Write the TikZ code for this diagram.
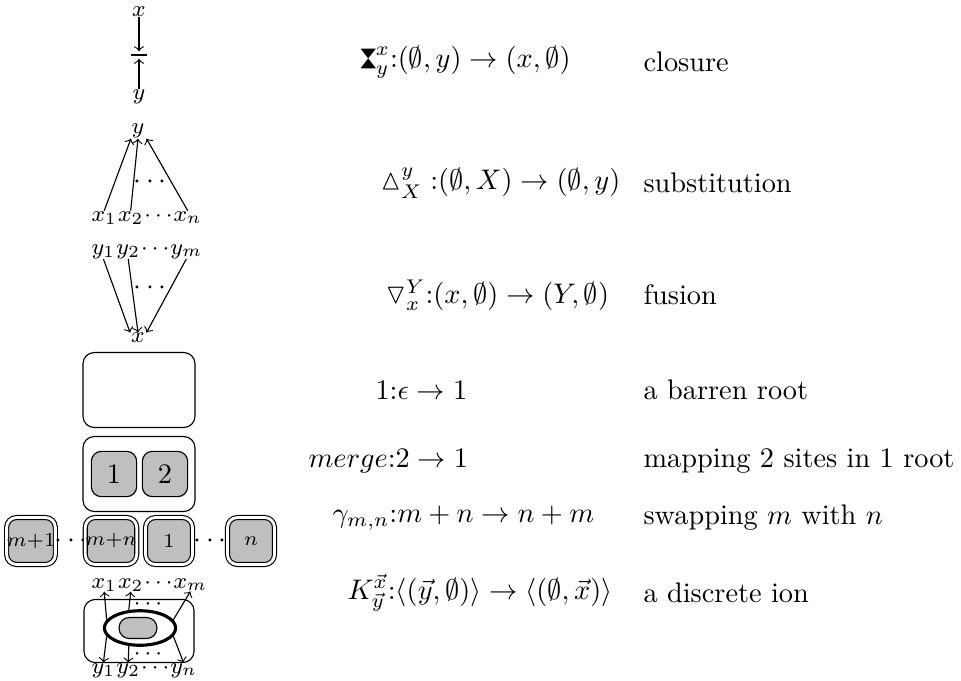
\documentclass[tikz,border=0pt]{standalone}
\usepackage{amssymb}
\usetikzlibrary{positioning,shapes.geometric}
\tikzset{
  port/.style={inner sep=0pt, font=\footnotesize},
  root/.style={draw, rounded corners=4pt, minimum width=39.6pt, minimum height=26.5pt},
  site/.style={draw, fill=gray!50, rounded corners=3.5pt, minimum size=16pt, inner sep=0pt},
  wsite/.style={site, double, double distance=1pt, minimum size=16.6pt, font=\scriptsize},
  ionring/.style={draw, ellipse, line width=1.1pt, minimum width=25.2pt, minimum height=12.2pt},
  ionsite/.style={draw, fill=gray!50, rounded corners=3.6pt, minimum width=13.4pt,
    minimum height=7.4pt, inner sep=0pt},
  expr/.style={anchor=west, inner sep=0pt},
  desc/.style={anchor=west, inner sep=0pt}
}
\newcommand{\hglass}{\mathord{\tikz[baseline=0pt,x=1pt,y=1pt]
  \fill (0,6.6)--(5.4,6.6)--(0,-0.4)--(5.4,-0.4)--cycle;}}

\begin{document}
\begin{tikzpicture}[x=0.3534pt, y=-0.3534pt]
\useasboundingbox (0,0) rectangle (961,680);

% closure
\node[port] (cx) at (139,12) {$x$};
\node[port] (cy) at (139,97) {$y$};
\coordinate (cbar) at (139,55);
\draw ([xshift=-2.8pt]cbar) -- ([xshift=2.8pt]cbar);
\draw[->] (cx) -- ([yshift=1.3pt]cbar);
\draw[->] (cy) -- ([yshift=-1.3pt]cbar);

% substitution
\node[port] (sy) at (138,131) {$y$};
\node[port, anchor=base west] (sx1) at (91,221) {$x_1$};
\node[port, base right=0pt of sx1] (sx2) {$x_2$};
\node[port, base right=0pt of sx2] (sdots) {$\cdots$};
\node[port, base right=0pt of sdots] (sxn) {$x_n$};
\node (smid) at (150,182) {$\cdots$};
\draw[->] (sx1.north) -- ([xshift=-2.5pt]sy.south);
\draw[->] (sx2.north) -- (sy.south);
\draw[->] (sxn.north) -- ([xshift=3pt]sy.south);

% fusion
\node[port, anchor=base west] (fy1) at (91,254) {$y_1$};
\node[port, base right=0pt of fy1] (fy2) {$y_2$};
\node[port, base right=0pt of fy2] (fdots) {$\cdots$};
\node[port, base right=0pt of fdots] (fym) {$y_m$};
\node[port] (fx) at (138,338) {$x$};
\node (fmid) at (150,288) {$\cdots$};
\draw[->] (fy1.south) -- ([xshift=-2.8pt]fx.north);
\draw[->] (fy2.south) -- (fx.north);
\draw[->] (fym.south) -- ([xshift=3pt]fx.north);

% barren root
\node[root] (r0) at (139,390) {};

% merge
\node[root] (r1) at (139,474) {};
\node[site] (m1) at (114,474) {1};
\node[site] (m2) at (165,474) {2};

% swap
\node[wsite] (w1) at (31,541) {$m{+}1$};
\node (wd1) at (71,541) {$\cdots$};
\node[wsite] (w2) at (111,541) {$m{+}n$};
\node[wsite] (w3) at (169,541) {$1$};
\node (wd2) at (210,541) {$\cdots$};
\node[wsite] (w4) at (251,541) {$n$};

% discrete ion
\node[root, minimum width=38.9pt, minimum height=22.3pt] (r2) at (139,631) {};
\node[ionring] (ring) at (140,628) {};
\node[ionsite] (isite) at (138,628) {};
\node[port, anchor=base west] (ix1) at (91,588) {$x_1$};
\node[port, base right=0pt of ix1] (ix2) {$x_2$};
\node[port, base right=0pt of ix2] (ixdots) {$\cdots$};
\node[port, base right=0pt of ixdots] (ixm) {$x_m$};
\node[port, anchor=base west] (iy1) at (91,673) {$y_1$};
\node[port, base right=0pt of iy1] (iy2) {$y_2$};
\node[port, base right=0pt of iy2] (iydots) {$\cdots$};
\node[port, base right=0pt of iydots] (iyn) {$y_n$};
\node[port] (itop) at (148,604) {$\cdots$};
\node[port] (ibot) at (148,654) {$\cdots$};
\draw[->] (ring.166) -- (ix1.south);
\draw[->] (ring.122) -- (ix2.south);
\draw[->] (ring.14) -- (ixm.south);
\draw[->] (ring.194) -- (iy1.north);
\draw[->] (ring.238) -- (iy2.north);
\draw[->] (ring.346) -- (iyn.north);

% signatures
\node[expr] (e1) at (360,62) {$\hglass^x_y{:}(\emptyset,y)\rightarrow(x,\emptyset)$};
\node[expr] (e2) at (380,183) {$\vartriangle^y_X{:}(\emptyset,X)\rightarrow(\emptyset,y)$};
\node[expr] (e3) at (385,295) {$\triangledown^Y_x{:}(x,\emptyset)\rightarrow(Y,\emptyset)$};
\node[expr] (e4) at (375,390) {$1{:}\epsilon\rightarrow1$};
\node[expr] (e5) at (308,461) {$merge{:}2\rightarrow1$};
\node[expr] (e6) at (332,518) {$\gamma_{m,n}{:}m+n\rightarrow n+m$};
\node[expr] (e7) at (347,593) {$K^{\vec{x}}_{\vec{y}}{:}\langle(\vec{y},\emptyset)\rangle\rightarrow\langle(\emptyset,\vec{x})\rangle$};

% descriptions
\node[desc] (d1) at (643,62) {closure};
\node[desc] (d2) at (643,183) {substitution};
\node[desc] (d3) at (643,295) {fusion};
\node[desc] (d4) at (643,390) {a barren root};
\node[desc] (d5) at (643,461) {mapping 2 sites in 1 root};
\node[desc] (d6) at (643,518) {swapping $m$ with $n$};
\node[desc] (d7) at (643,593) {a discrete ion};
\end{tikzpicture}
\end{document}
